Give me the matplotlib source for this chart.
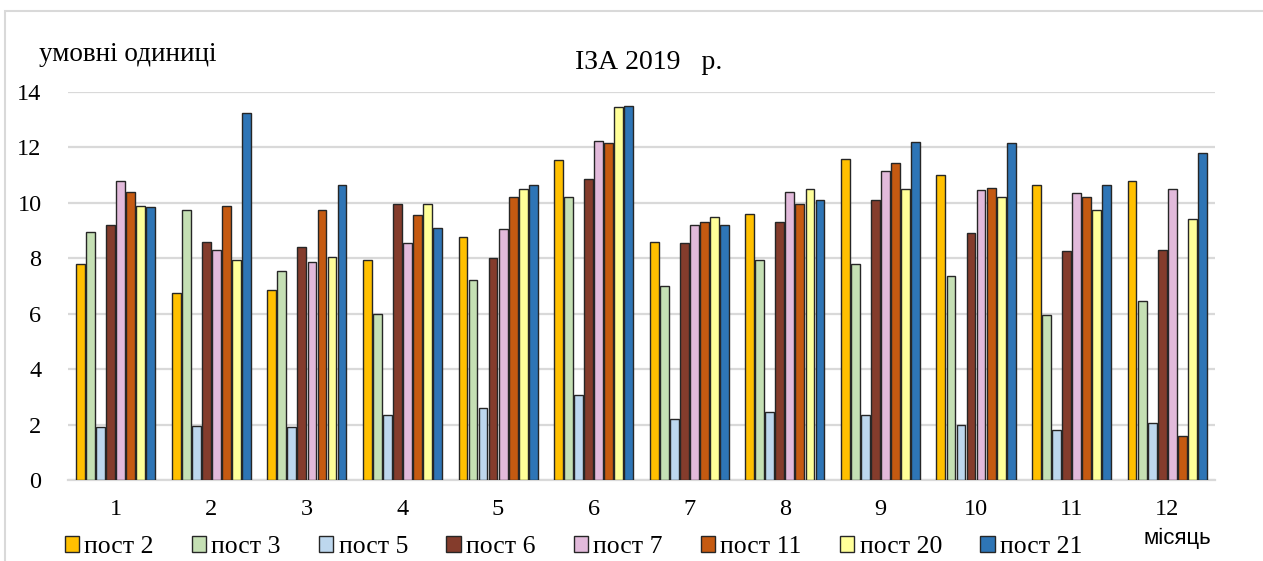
import matplotlib.pyplot as plt
import numpy as np
from matplotlib.patches import Rectangle

plt.rcParams['font.family'] = ['Liberation Serif', 'DejaVu Serif']

months = ['1', '2', '3', '4', '5', '6', '7', '8', '9', '10', '11', '12']
posts = ['пост 2', 'пост 3', 'пост 5', 'пост 6', 'пост 7', 'пост 11', 'пост 20', 'пост 21']

post_2 = [7.8, 6.75, 6.85, 7.95, 8.75, 11.55, 8.6, 9.6, 11.6, 11.0, 10.65, 10.8]
post_3 = [8.95, 9.75, 7.55, 6.0, 7.2, 10.2, 7.0, 7.95, 7.8, 7.35, 5.95, 6.45]
post_5 = [1.9, 1.95, 1.9, 2.35, 2.6, 3.05, 2.2, 2.45, 2.35, 2.0, 1.8, 2.05]
post_6 = [9.2, 8.6, 8.4, 9.95, 8.0, 10.85, 8.55, 9.3, 10.1, 8.9, 8.25, 8.3]
post_7 = [10.8, 8.3, 7.85, 8.55, 9.05, 12.25, 9.2, 10.4, 11.15, 10.45, 10.35, 10.5]
post_11 = [10.4, 9.9, 9.75, 9.55, 10.2, 12.15, 9.3, 9.95, 11.45, 10.55, 10.2, 1.6]
post_20 = [9.9, 7.95, 8.05, 9.95, 10.5, 13.45, 9.5, 10.5, 10.5, 10.2, 9.75, 9.4]
post_21 = [9.85, 13.25, 10.65, 9.1, 10.65, 13.5, 9.2, 10.1, 12.2, 12.15, 10.65, 11.8]

series = [post_2, post_3, post_5, post_6, post_7, post_11, post_20, post_21]
colors = ['#FFC000', '#C5E0B4', '#BDD7EE', '#843C2C', '#E2BADB', '#C55A11', '#FFFF99', '#2E75B6']

fig = plt.figure(figsize=(12.63, 5.61), dpi=100)
ax = fig.add_axes([0.0538, 0.1444, 0.9082, 0.6916])

x = np.arange(len(months))
slot = 0.105
for i, (vals, c) in enumerate(zip(series, colors)):
    ax.bar(x + (i - 3.5) * slot, vals, width=slot * 0.88, color=c,
           edgecolor='#262626', linewidth=1.0, label=posts[i], zorder=3)

ax.set_xlim(-0.5, len(months) - 0.5)
ax.set_ylim(0, 14)
ax.set_yticks(range(0, 15, 2))
ax.set_xticks(x)
ax.set_xticklabels(months)
ax.yaxis.grid(True, color='#D9D9D9', linewidth=1.6, zorder=0)
for s in ['top', 'right', 'left']:
    ax.spines[s].set_visible(False)
ax.spines['bottom'].set_color('#D9D9D9')
ax.spines['bottom'].set_linewidth(1.6)
ax.tick_params(axis='both', length=0, labelsize=17.5, colors='black')
ax.tick_params(axis='y', pad=19)
ax.tick_params(axis='x', pad=14)

fig.text(0.031, 0.892, 'умовні одиниці', fontsize=19.5)
fig.text(0.514, 0.877, 'ІЗА 2019   р.', fontsize=20, ha='center')
fig.text(0.905, 0.03, 'місяць', fontsize=16, family=['Liberation Sans', 'DejaVu Sans'])

fig.legend(loc='lower left', bbox_to_anchor=(0.039, -0.022), ncol=8, frameon=False,
           fontsize=18.5, handlelength=0.55, handleheight=0.6, handletextpad=0.2,
           columnspacing=1.5, borderaxespad=0.2)

fig.patches.append(Rectangle((0.004, -0.01), 1.2, 0.99, transform=fig.transFigure,
                             fill=False, edgecolor='#D9D9D9', linewidth=1.5))

fig.savefig('out.png', dpi=100)
